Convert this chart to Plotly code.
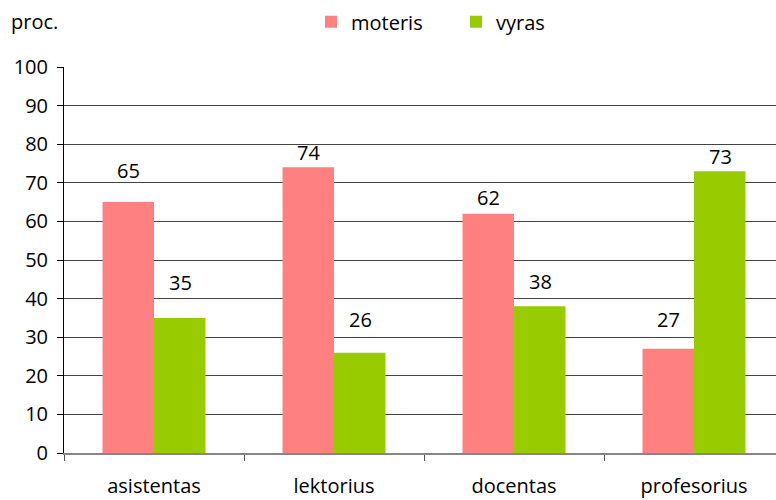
import plotly.graph_objects as go

categories = ["asistentas", "lektorius", "docentas", "profesorius"]
moteris = [65, 74, 62, 27]
vyras = [35, 26, 38, 73]
series_names = ["moteris", "vyras"]
y_ticks = [0, 10, 20, 30, 40, 50, 60, 70, 80, 90, 100]

# label vertical offsets (px) to mimic the reference placement
shift_moteris = [32, 15, 16, 29]
shift_vyras = [35, 33, 25, 15]

FONT = "'Open Sans', Lato, sans-serif"
FS = 20
C_M = "#FF8080"
C_V = "#99CC00"

fig = go.Figure()
fig.add_trace(go.Bar(x=categories, y=moteris, name=series_names[0], marker_color=C_M,
                     marker_line_width=0, legend="legend"))
fig.add_trace(go.Bar(x=categories, y=vyras, name=series_names[1], marker_color=C_V,
                     marker_line_width=0, legend="legend2"))

W = 712
cat_px = 180.0
x_hi = -0.5 + W / cat_px

for i, c in enumerate(categories):
    fig.add_annotation(x=i, y=moteris[i], text=str(moteris[i]), showarrow=False,
                       xref="x", yref="y", xshift=-26, yshift=shift_moteris[i],
                       font=dict(family=FONT, size=FS, color="#000000"))
    fig.add_annotation(x=i, y=vyras[i], text=str(vyras[i]), showarrow=False,
                       xref="x", yref="y", xshift=26, yshift=shift_vyras[i],
                       font=dict(family=FONT, size=FS, color="#000000"))

fig.add_annotation(x=-55 / W, y=1.117, xref="paper", yref="paper", text="proc.",
                   showarrow=False, xanchor="left", yanchor="middle",
                   font=dict(family=FONT, size=FS, color="#000000"))

leg_common = dict(orientation="h", xanchor="left", y=1.117, yanchor="middle",
                  font=dict(family=FONT, size=FS, color="#000000"),
                  bgcolor="rgba(0,0,0,0)")

fig.update_layout(
    width=776, height=500,
    margin=dict(l=64, r=0, t=67, b=47, autoexpand=False),
    paper_bgcolor="white", plot_bgcolor="white",
    barmode="group", bargap=0.428, bargroupgap=0,
    font=dict(family=FONT, size=FS, color="#000000"),
    legend=dict(x=(311 - 64) / W, **leg_common),
    legend2=dict(x=(456 - 64) / W, **leg_common),
    xaxis=dict(range=[-0.5, x_hi], showgrid=False, showline=True, linecolor="#868686",
               linewidth=1.5, ticks="outside", tickson="boundaries", ticklen=6,
               tickcolor="#555555", tickfont=dict(family=FONT, size=FS),
               ticklabelstandoff=14, automargin=False, fixedrange=True),
    yaxis=dict(range=[0, 100], tickvals=y_ticks, showgrid=True, gridcolor="#444444",
               gridwidth=1, zeroline=False, showline=True, linecolor="#000000",
               linewidth=1, ticks="outside", ticklen=6, tickcolor="#000000",
               tickfont=dict(family=FONT, size=FS), ticklabelstandoff=5,
               automargin=False),
    showlegend=True,
)

fig.write_html("out.html", config={"displayModeBar": False},
               post_script="document.body.style.margin='0';document.body.style.overflow='hidden';")
